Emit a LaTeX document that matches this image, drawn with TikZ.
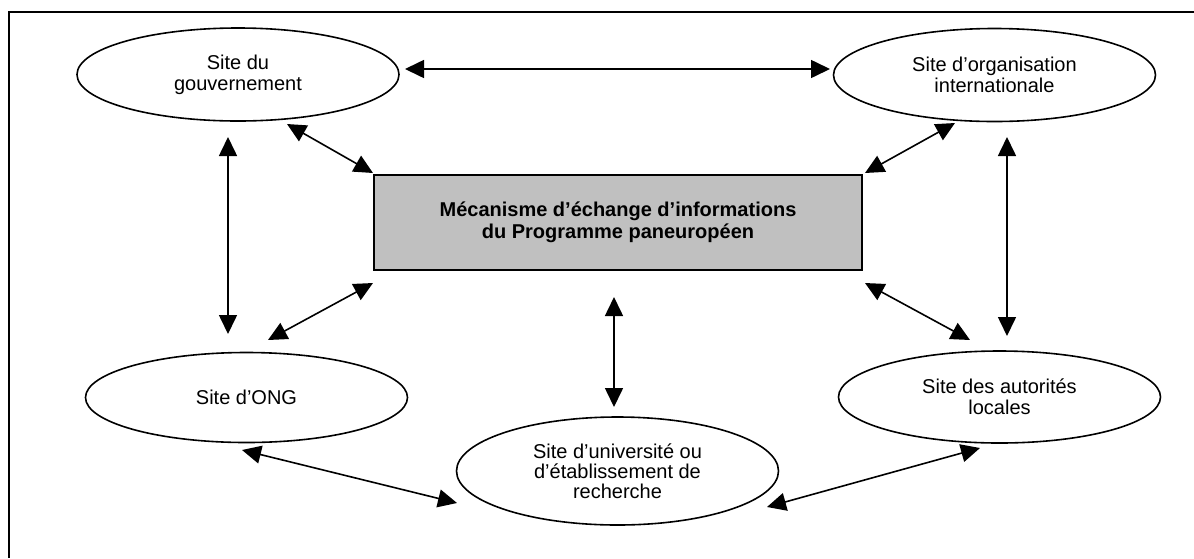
\documentclass[tikz,border=0pt]{standalone}
\usepackage{fontspec}
\setmainfont{Liberation Sans}
\usetikzlibrary{shapes.geometric,arrows.meta}
\tikzset{
  site/.style={draw, ellipse, line width=1.6pt, inner sep=0pt, align=center,
    font=\fontsize{20}{21}\selectfont, minimum width=322pt},
  hub/.style={draw, line width=1.6pt, fill={rgb,255:red,192;green,192;blue,192}, inner sep=0pt,
    align=center, font=\fontsize{20}{22}\selectfont\bfseries, minimum width=488pt, minimum height=95pt},
  link/.style={line width=1.6pt, {Triangle[length=19pt,width=18pt]}-{Triangle[length=19pt,width=18pt]}},
  frameline/.style={line width=2.2pt}
}
\begin{document}
\begin{tikzpicture}[x=1pt,y=-1pt]
\useasboundingbox (0,0) rectangle (1194,558);
\coordinate (f0) at (9,12);
\coordinate (f1) at (1194,12);
\coordinate (f2) at (9,558);
\draw[frameline] (f1) -- (f0) -- (f2);

\node[hub] (hub) at (618,222.5) {Mécanisme d’échange d’informations\\du Programme paneuropéen};
\node[site, minimum height=93pt] (gov) at (238,74.5) {Site du\\gouvernement};
\node[site, minimum height=93pt] (org) at (994.5,75) {Site d’organisation\\internationale};
\node[site, minimum height=90pt] (ong) at (246.5,397.5) {Site d’ONG};
\node[site, minimum height=92pt] (aut) at (999.5,397) {Site des autorités\\locales};
\node[site, minimum height=108pt, font=\fontsize{20}{20}\selectfont] (uni) at (617.5,471) {Site d’université ou\\d’établissement de\\recherche};

\coordinate (a1) at (405,69);  \coordinate (b1) at (830,69);
\coordinate (a2) at (287,124); \coordinate (b2) at (373,173);
\coordinate (a3) at (228,137); \coordinate (b3) at (228,334);
\coordinate (a4) at (955,123); \coordinate (b4) at (865,173);
\coordinate (a5) at (1007,137); \coordinate (b5) at (1007,336);
\coordinate (a6) at (373,283); \coordinate (b6) at (268,340);
\coordinate (a7) at (865,283); \coordinate (b7) at (970,340);
\coordinate (a8) at (614,297); \coordinate (b8) at (614,407);
\coordinate (a9) at (242,450); \coordinate (b9) at (457,503);
\coordinate (a10) at (767,507); \coordinate (b10) at (980,448);

\draw[link] (a1) -- (b1);
\draw[link] (a2) -- (b2);
\draw[link] (a3) -- (b3);
\draw[link] (a4) -- (b4);
\draw[link] (a5) -- (b5);
\draw[link] (a6) -- (b6);
\draw[link] (a7) -- (b7);
\draw[link] (a8) -- (b8);
\draw[link] (a9) -- (b9);
\draw[link] (a10) -- (b10);
\end{tikzpicture}
\end{document}
